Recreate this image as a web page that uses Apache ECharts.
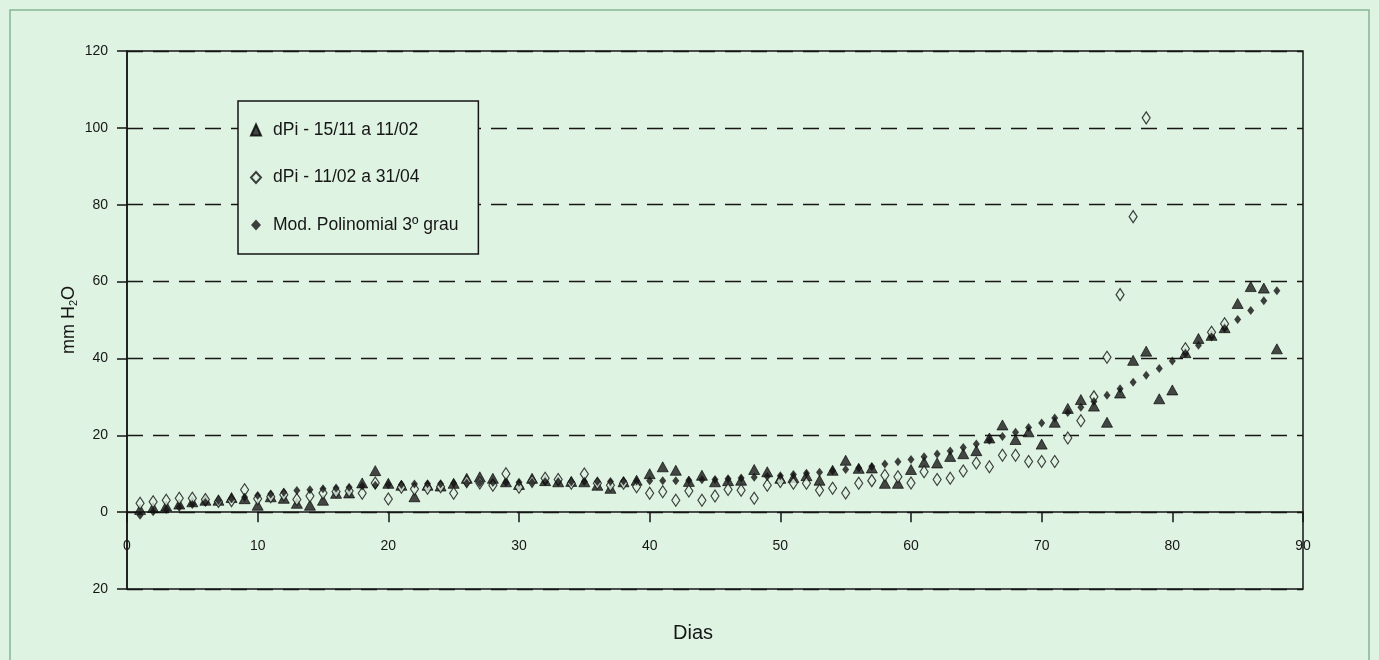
<!DOCTYPE html>
<html>
<head>
<meta charset="utf-8">
<script src="https://cdn.jsdelivr.net/npm/echarts@6/dist/echarts.min.js"></script>
<style>
  html, body { margin: 0; padding: 0; background: #dff3e2; }
  #chart { width: 1379px; height: 660px; }
</style>
</head>
<body>
<div id="chart"></div>
<script>
// ---- data ----
const days = [1,2,3,4,5,6,7,8,9,10,11,12,13,14,15,16,17,18,19,20,21,22,23,24,25,26,27,28,29,30,
  31,32,33,34,35,36,37,38,39,40,41,42,43,44,45,46,47,48,49,50,51,52,53,54,55,56,57,58,59,60,
  61,62,63,64,65,66,67,68,69,70,71,72,73,74,75,76,77,78,79,80,81,82,83,84,85,86,87,88];

// dPi - 15/11 a 11/02 (triangles)
const dPiA = [0.7,1.2,1.6,2.1,2.7,3.1,3.1,3.8,3.5,1.8,
  4.0,3.6,2.3,1.8,3.1,4.9,5.0,7.6,10.8,7.5,
  7.0,4.0,7.0,6.8,7.5,8.8,9.2,8.8,7.9,7.2,
  8.8,8.2,7.9,8.0,7.9,7.0,6.2,7.9,8.3,10.0,
  11.8,10.9,8.0,9.6,7.9,8.2,8.3,11.1,10.5,8.8,
  9.0,9.5,8.3,10.9,13.5,11.4,11.5,7.5,7.5,11.1,
  13.0,12.8,14.5,15.2,16.0,19.3,22.7,18.9,20.9,17.7,
  23.4,27.0,29.3,27.6,23.4,31.0,39.5,41.9,29.5,31.8,
  41.5,45.2,46.0,48.0,54.3,58.7,58.3,42.5];

// dPi - 11/02 a 31/04 (open diamonds)
const dPiB = [2.3,2.7,3.1,3.6,3.6,3.3,2.8,3.0,5.8,3.5,
  4.0,4.5,3.3,4.2,5.0,5.3,5.5,4.9,7.6,3.4,
  6.5,6.0,6.2,6.6,4.9,7.9,7.6,7.0,10.0,6.5,
  8.0,8.8,8.5,7.5,9.9,7.5,7.0,7.5,6.6,4.9,
  5.3,3.1,5.5,3.1,4.2,5.9,5.7,3.6,7.0,8.0,
  7.5,7.5,5.7,6.2,5.0,7.5,8.2,9.6,9.2,7.6,
  10.5,8.5,8.8,10.7,12.8,11.8,14.8,14.8,13.2,13.2,
  13.2,19.3,23.8,30.0,40.3,56.6,76.9,102.6,null,null,
  42.5,null,46.8,49.0,null,null,null,null];

// Mod. Polinomial 3º grau (small filled diamonds)
const modelPoly = [-0.8,0.1,0.7,1.3,2.0,2.5,3.0,3.5,3.9,4.3,
  4.7,5.2,5.6,5.8,6.1,6.3,6.5,6.8,7.0,7.1,
  7.2,7.3,7.4,7.4,7.5,7.6,7.6,7.7,7.7,7.8,
  7.8,7.9,7.9,7.9,8.0,8.0,8.0,8.1,8.1,8.2,
  8.2,8.2,8.3,8.4,8.5,8.7,8.9,9.1,9.3,9.5,
  9.8,10.1,10.4,10.8,11.1,11.5,11.9,12.5,13.1,13.7,
  14.4,15.1,15.9,16.8,17.7,18.7,19.7,20.8,22.0,23.2,
  24.5,25.9,27.3,28.8,30.4,32.1,33.8,35.6,37.4,39.3,
  41.3,43.4,45.6,47.8,50.1,52.5,55.0,57.6];

const seriesNames = ['dPi - 15/11 a 11/02', 'dPi - 11/02 a 31/04', 'Mod. Polinomial 3º grau'];
const yTickValues = [-20, 0, 20, 40, 60, 80, 100, 120];
const yTickText   = ['20', '0', '20', '40', '60', '80', '100', '120'];
const xAxisTitle = 'Dias';

// ---- build ----
function pairs(vals) {
  const out = [];
  vals.forEach((v, i) => { if (v !== null) out.push([days[i], v]); });
  return out;
}
const BG = '#dff3e2';
const INK = '#161616';
const FONT = '"Liberation Sans", Arial, sans-serif';

const chart = echarts.init(document.getElementById('chart'), null, { renderer: 'canvas' });
chart.setOption({
  backgroundColor: BG,
  animation: false,
  textStyle: { fontFamily: FONT, color: INK },
  grid: {
    left: 127, right: 76, top: 51, bottom: 71,
    outerBoundsMode: 'none', containLabel: false,
    show: true, borderColor: INK, borderWidth: 1.5, backgroundColor: 'transparent'
  },
  legend: {
    orient: 'vertical',
    left: 238, top: 101,
    padding: [20, 20, 20, 12],
    itemGap: 29.5,
    itemWidth: 10, itemHeight: 11,
    borderColor: INK, borderWidth: 1.5,
    backgroundColor: BG,
    z: 10,
    textStyle: { fontSize: 17.5, color: INK, fontFamily: FONT, padding: [0, 0, 0, 7], lineHeight: 18 },
    data: seriesNames
  },
  xAxis: {
    type: 'value', min: 0, max: 90, interval: 10,
    name: xAxisTitle, nameLocation: 'middle', nameGap: 34, nameMoveOverlap: false,
    nameTextStyle: { fontSize: 20, color: INK, fontFamily: FONT, padding: [0, 44, 0, 0] },
    axisLine: { show: true, onZero: true, lineStyle: { color: INK, width: 1.5 } },
    axisTick: { show: true, length: 10, lineStyle: { color: INK, width: 1.5 } },
    axisLabel: { margin: -50, fontSize: 14, color: INK, fontFamily: FONT },
    splitLine: { show: false }
  },
  yAxis: {
    type: 'value', min: -20, max: 120, interval: 20,
    name: 'mm H{sub|2}O', nameLocation: 'middle', nameGap: 48, nameMoveOverlap: false,
    nameTextStyle: {
      fontSize: 18, color: INK, fontFamily: FONT,
      rich: { sub: { fontSize: 11, verticalAlign: 'bottom', color: INK, fontFamily: FONT, padding: [8, 0, 0, 0] } }
    },
    axisLine: { show: true, lineStyle: { color: INK, width: 1.5 } },
    axisTick: { show: true, length: 10, lineStyle: { color: INK, width: 1.5 } },
    axisLabel: {
      margin: 19, fontSize: 14, color: INK, fontFamily: FONT,
      formatter: function (v) { const k = yTickValues.indexOf(v); return k >= 0 ? yTickText[k] : ''; }
    },
    splitLine: { show: true, lineStyle: { color: INK, width: 1.4, type: [16, 10] } }
  },
  graphic: [{
    type: 'rect', silent: true, z: -1,
    shape: { x: 10, y: 10, width: 1359, height: 662 },
    style: { fill: 'transparent', stroke: '#86b592', lineWidth: 1.5 }
  }],
  series: [
    {
      name: seriesNames[0], type: 'scatter', data: pairs(dPiA),
      symbol: 'triangle', symbolSize: [11, 10],
      itemStyle: { color: '#1c1c1c', borderColor: '#000', borderWidth: 0.8 },
      emphasis: { disabled: true }
    },
    {
      name: seriesNames[1], type: 'scatter', data: pairs(dPiB),
      symbol: 'diamond', symbolSize: [8, 12],
      itemStyle: { color: BG, borderColor: '#111', borderWidth: 1.2 },
      emphasis: { disabled: true }
    },
    {
      name: seriesNames[2], type: 'scatter', data: pairs(modelPoly),
      symbol: 'diamond', symbolSize: [7, 9],
      itemStyle: { color: '#111' },
      emphasis: { disabled: true }
    }
  ]
});
</script>
</body>
</html>
